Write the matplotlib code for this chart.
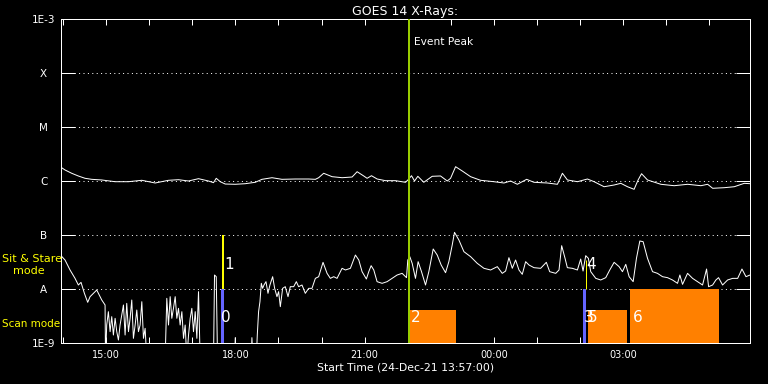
import numpy as np
import matplotlib
matplotlib.use("Agg")
import matplotlib.pyplot as plt
from matplotlib.transforms import blended_transform_factory

# ---------------- data ----------------
# time in minutes after start (24-Dec-21 13:57:00), flux as log10(W/m^2)
long_t = [0, 5.6, 14.9, 24.1, 33.5, 42.8, 56.8, 75.3, 93.9, 112.6, 131.2, 149.7, 163.7, 177.6,
          191.6, 205.5, 212.5, 216.3, 221.9, 228.8, 242.8, 256.7, 270.7, 280.0, 294.0, 307.9,
          326.5, 345.1, 354.4, 359.0, 366.0, 377.7, 391.7, 405.6, 412.6, 421.8, 426.5, 432.6,
          440.5, 452.1, 466.0, 480.0, 483.7, 488.4, 492.6, 497.2, 505.5, 517.2, 528.8, 538.2,
          542.8, 549.8, 559.1, 570.7, 584.6, 603.2, 617.2, 626.5, 635.8, 648.8, 659.0, 677.7,
          691.7, 698.6, 705.6, 719.6, 733.5, 742.8, 756.7, 770.7, 780.0, 789.3, 798.5, 804.1,
          808.9, 817.2, 835.8, 854.4, 873.1, 891.6, 901.0, 908.0, 924.1, 938.1, 952.0, 960.4]
long_log = [-5.746, -5.796, -5.857, -5.907, -5.950, -5.969, -5.981, -6.013, -6.013, -5.987,
            -6.037, -5.987, -5.976, -6.000, -5.957, -6.000, -6.031, -5.950, -6.013, -6.056,
            -6.061, -6.050, -6.024, -5.969, -5.939, -5.969, -5.963, -5.963, -5.969, -5.939,
            -5.857, -5.920, -5.939, -5.926, -5.828, -5.907, -5.950, -5.902, -5.963, -5.994,
            -5.994, -6.024, -5.976, -5.902, -6.000, -5.913, -6.024, -5.913, -5.907, -6.000,
            -5.950, -5.735, -5.815, -5.920, -5.987, -6.013, -6.037, -6.000, -6.061, -5.969,
            -6.024, -6.037, -6.061, -5.857, -5.981, -6.013, -5.963, -6.013, -6.106, -6.074,
            -6.043, -6.106, -6.154, -5.981, -5.865, -5.981, -6.061, -6.087, -6.061, -6.087,
            -6.061, -6.135, -6.124, -6.106, -6.043, -6.050]

short_t = [0, 5.6, 12.6, 19.5, 24.2, 27.9, 32.6, 37.2, 40.5, 49.8, 56.8, 61.4, 62.0,
           63.7, 66.0, 68.4, 70.7, 73.0, 75.4, 77.7, 80.0, 82.3, 87.0, 89.3, 91.6, 94.0,
           96.3, 98.6, 100.9, 103.3, 105.6, 107.9, 110.2, 112.6, 114.9, 117.2, 119.5,
           145.1, 147.4, 149.8, 152.1, 154.4, 156.7, 159.1, 161.4, 163.7, 166.0, 168.4,
           170.7, 173.0, 175.3, 177.7, 180.0, 182.3, 184.6, 187.0, 189.3, 191.6, 193.9,
           212.5, 213.9, 216.3, 218.1, 241.9, 242.8, 243.7, 265.1, 266.0, 267.4, 272.1,
           273.5, 275.3, 277.2, 279.1, 280.9, 282.8, 285.6, 288.4, 291.1, 294.9, 297.7,
           300.9, 303.2, 305.6, 308.8, 312.5, 316.3, 319.5,
           324.2, 327.9, 331.1, 335.8, 340.4, 345.1, 349.7, 354.4, 359.0, 365.1, 370.7,
           375.3, 380.0, 384.6, 391.6, 396.3, 403.2, 410.2, 414.9, 419.5, 425.5, 428.8,
           432.1, 435.8, 440.4, 447.4, 454.4, 461.4, 468.3, 475.3, 481.4, 483.2, 486.0,
           489.3, 493.9, 497.6, 502.3, 507.9, 512.5, 518.6, 524.2, 529.7, 535.8, 540.4,
           545.1, 548.3, 554.4, 561.4, 570.7, 580.0, 589.3, 598.6, 607.9, 614.8, 619.5,
           624.1, 628.8, 633.4, 638.1, 642.7, 647.4, 652.1, 659.0, 668.3, 676.2, 680.9,
           689.3, 693.9, 697.6, 702.3, 705.5, 712.5, 719.5, 724.1, 727.4, 731.1, 734.8,
           738.1, 745.1, 752.0, 759.0, 764.6, 770.7, 777.6, 782.3, 786.9, 791.6, 797.2,
           801.8, 806.5, 811.1, 817.2, 824.2, 831.1, 838.1, 845.1, 852.0, 859.0, 862.3,
           866.0, 873.0, 880.0, 886.9, 893.9, 899.5, 902.3, 907.9, 912.5, 916.2, 921.8,
           928.8, 935.8, 942.8, 948.8, 954.4, 960.0]
short_log = [-7.383, -7.463, -7.648, -7.802, -7.926, -7.877, -8.080, -8.247, -8.142, -8.019,
             -8.204, -8.296, -9.3,
             -8.667, -8.420, -8.790, -8.512, -8.852, -8.543, -8.790, -8.945, -8.667, -8.296,
             -8.852, -8.266, -8.790, -8.543, -8.204, -8.914, -8.667, -8.389, -8.790, -8.667,
             -8.235, -8.914, -8.728, -9.3,
             -9.3, -8.173, -8.667, -8.142, -8.543, -8.358, -8.142, -8.543, -8.358, -8.667,
             -8.420, -8.914, -8.667, -9.3, -8.852, -8.543, -8.358, -8.790, -8.420, -8.914,
             -8.049, -9.3,
             -9.3, -7.741, -7.772, -9.3, -9.3, -8.901, -9.3, -9.3, -8.901, -9.3, -9.3,
             -8.852, -8.420, -8.235, -7.895, -7.988, -7.926, -7.864, -8.080, -7.926, -7.772,
             -7.988, -8.142, -8.049, -8.327, -7.988, -7.957, -8.142, -7.957,
             -7.957, -7.864, -7.957, -7.926, -8.080, -7.988, -7.988, -7.803, -7.772, -7.506,
             -7.710, -7.803, -7.772, -7.803, -7.617, -7.648, -7.617, -7.371, -7.463, -7.679,
             -7.815, -7.679, -7.568, -7.648, -7.864, -7.895, -7.864, -7.803, -7.741, -7.710,
             -7.790, -7.463, -7.401, -7.525, -7.803, -7.494, -7.679, -7.926, -7.679, -7.259,
             -7.371, -7.556, -7.698, -7.494, -7.185, -6.951, -7.093, -7.309, -7.401, -7.525,
             -7.617, -7.648, -7.586, -7.710, -7.667, -7.420, -7.617, -7.463, -7.648, -7.728,
             -7.494, -7.556, -7.605, -7.617, -7.506, -7.679, -7.710, -7.648, -7.198, -7.432,
             -7.605, -7.617, -7.648, -7.445, -7.667, -7.383, -7.432, -7.679, -7.803, -7.833,
             -7.790, -7.648, -7.506, -7.586, -7.679, -7.543, -7.772, -7.864, -7.432, -7.111,
             -7.124, -7.432, -7.679, -7.710, -7.772, -7.790, -7.833, -7.895, -7.741, -7.914,
             -7.710, -7.803, -7.864, -7.926, -7.630, -7.957, -7.926, -7.833, -7.790, -7.926,
             -7.833, -7.803, -7.803, -7.630, -7.772, -7.741]

# observing-mode marks
scan_start = [485.6, 733.9, 793.2]      # orange blocks
scan_end = [549.8, 789.3, 917.4]
scan_top = [4.1e-9, 4.1e-9, 1.0e-8]
blue_start = [222.5, 727.0]
blue_width = [4.5, 4.2]
yellow_t = [226.0, 731.5]
yellow_top = [1.0e-7, 3.45e-8]
yellow_lw = [2.0, 1.0]
mode_labels = ['0', '1', '2', '3', '4', '5', '6']
mode_label_t = [223.5, 227.5, 488.0, 728.0, 732.5, 734.5, 796.5]
mode_label_y = [3.0e-9, 2.8e-8, 3.0e-9, 3.0e-9, 2.9e-8, 3.0e-9, 3.0e-9]
event_peak_t = 485.1

hour_ticks = list(range(3, 904, 60))
tick_labels = ['', '15:00', '', '', '18:00', '', '', '21:00', '', '', '00:00', '', '', '03:00', '', '']
y_levels = [1e-9, 1e-8, 1e-7, 1e-6, 1e-5, 1e-4, 1e-3]
y_labels = ['1E-9', 'A', 'B', 'C', 'M', 'X', '1E-3']
grid_levels = [1e-8, 1e-7, 1e-6, 1e-5, 1e-4]

# ---------------- plot ----------------
PX = 0.72  # 1 pixel in points at dpi 100
fig = plt.figure(figsize=(7.68, 3.84), dpi=100, facecolor='black')
ax = fig.add_axes([61 / 768, 1 - 343 / 384, 689 / 768, 324 / 384], facecolor='black')
ax.set_yscale('log')
ax.set_xlim(0, 960)
ax.set_ylim(1e-9, 1e-3)

for lv in grid_levels:
    ax.axhline(lv, color='white', lw=PX, ls=(0, (1, 3.4)), zorder=1)

for s, e, top in zip(scan_start, scan_end, scan_top):
    ax.bar(s, top - 1e-9, width=e - s, bottom=1e-9, align='edge', color='#ff8000', zorder=2, lw=0)
for s, w in zip(blue_start, blue_width):
    ax.bar(s, 1e-8 - 1e-9, width=w, bottom=1e-9, align='edge', color='#6464ff', zorder=2, lw=0)
for t, top, lw in zip(yellow_t, yellow_top, yellow_lw):
    ax.vlines(t, 1e-8, top, color='#ffff00', lw=lw * PX, zorder=3)

ax.plot(long_t, 10 ** np.array(long_log), color='white', lw=PX, zorder=4)
ax.plot(short_t, 10 ** np.array(short_log), color='white', lw=PX, zorder=4)

ax.axvline(event_peak_t, color='#99cc00', lw=2 * PX, zorder=5)
ax.text(event_peak_t + 7, 10 ** -3.42, 'Event Peak', color='white', fontsize=7.7,
        ha='left', va='center', zorder=6)

for lab, t, y in zip(mode_labels, mode_label_t, mode_label_y):
    ax.text(t, y, lab, color='white', fontsize=11, ha='left', va='center', zorder=6)

for sp in ax.spines.values():
    sp.set_color('white')
    sp.set_linewidth(PX)

ax.set_xticks(hour_ticks)
ax.set_xticklabels(tick_labels)
ax.tick_params(axis='x', which='major', direction='in', top=True, bottom=True, length=6 * PX,
               width=PX, color='white', labelcolor='white', labelsize=7, pad=5)
ax.set_yticks(y_levels)
ax.set_yticklabels(y_labels)
ax.yaxis.set_minor_locator(matplotlib.ticker.NullLocator())
ax.tick_params(axis='y', which='major', direction='in', left=True, right=True, length=14 * PX,
               width=PX, color='white', labelcolor='white', labelsize=7.5, pad=12.5)
for lab in ax.get_yticklabels():
    lab.set_horizontalalignment('center')

ax.set_title('GOES 14 X-Rays:', color='white', fontsize=9, pad=3)
ax.set_xlabel('Start Time (24-Dec-21 13:57:00)', color='white', fontsize=7.8, labelpad=2)

trans = blended_transform_factory(fig.transFigure, ax.transData)
ax.text(2 / 768, 10 ** -7.447, 'Sit & Stare', color='#ffff00', fontsize=8, ha='left', va='center',
        transform=trans, clip_on=False)
ax.text(13 / 768, 10 ** -7.67, 'mode', color='#ffff00', fontsize=8, ha='left', va='center',
        transform=trans, clip_on=False)
ax.text(2 / 768, 10 ** -8.64, 'Scan mode', color='#ffff00', fontsize=7.5, ha='left', va='center',
        transform=trans, clip_on=False)

fig.savefig('out.png', dpi=100, facecolor='black')
